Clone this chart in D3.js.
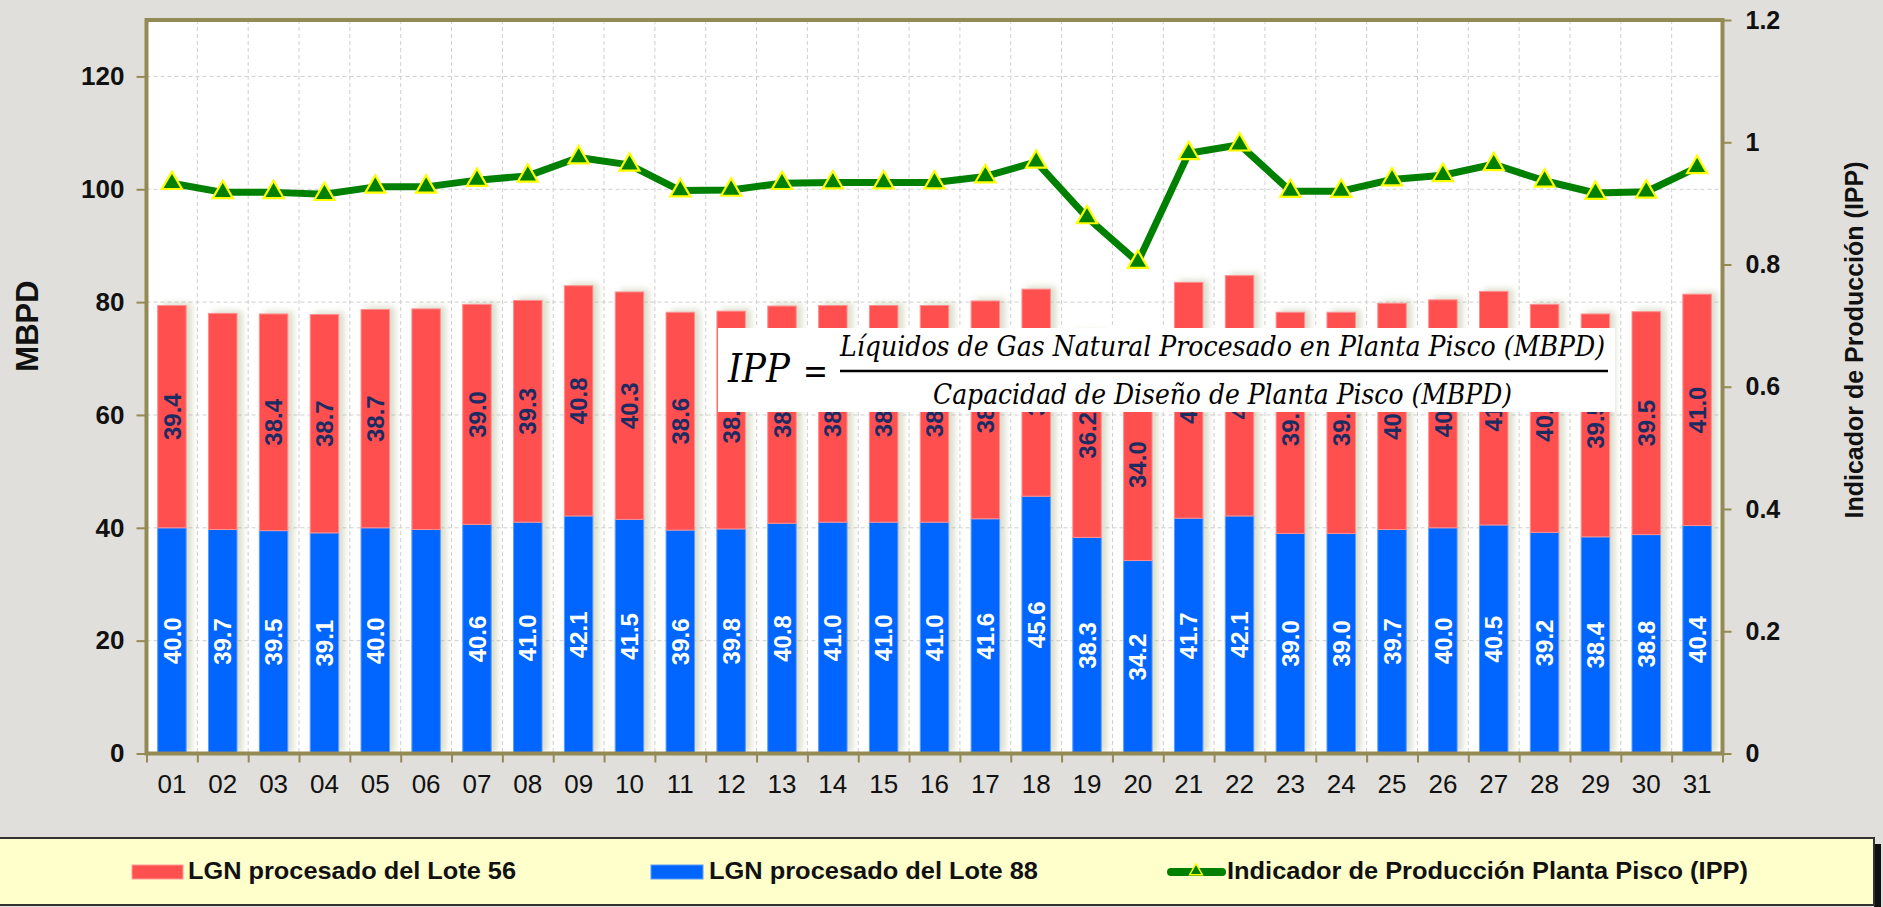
<!DOCTYPE html>
<html>
<head>
<meta charset="utf-8">
<script src="https://cdn.jsdelivr.net/npm/d3@7"></script>
<style>
  html, body { margin:0; padding:0; background:#e0dfdb; }
  svg { display:block; }
</style>
</head>
<body>
<div id="chart"></div>
<script>
// dias del mes
var dias = ["01","02","03","04","05","06","07","08","09","10","11","12","13","14","15","16",
            "17","18","19","20","21","22","23","24","25","26","27","28","29","30","31"]
// LGN procesado del Lote 88 (MBPD)
var lote88 = [40.0,39.7,39.5,39.1,40.0,39.7,40.6,41.0,42.1,41.5,39.6,39.8,40.8,41.0,41.0,41.0,
              41.6,45.6,38.3,34.2,41.7,42.1,39.0,39.0,39.7,40.0,40.5,39.2,38.4,38.8,40.4]
// LGN procesado del Lote 56 (MBPD)
var lote56 = [39.4,38.3,38.4,38.7,38.7,39.1,39.0,39.3,40.8,40.3,38.6,38.6,38.5,38.4,38.4,38.4,
              38.6,36.7,36.2,34.0,41.8,42.6,39.2,39.2,40.1,40.4,41.4,40.4,39.5,39.5,41.0]
// Indicador de Produccion Planta Pisco
var ipp = [0.933,0.918,0.918,0.915,0.927,0.927,0.938,0.945,0.975,0.963,0.921,0.922,0.933,0.934,0.934,0.934,
           0.944,0.968,0.877,0.804,0.982,0.996,0.920,0.920,0.939,0.946,0.964,0.937,0.917,0.919,0.959]

var ticksIzq = [0,20,40,60,80,100,120]
var ticksDer = [0,0.2,0.4,0.6,0.8,1,1.2]
var etiquetasDer = ["0","0.2","0.4","0.6","0.8","1","1.2"]
var sinEtiqueta56 = ["02","06"]
var sinEtiqueta88 = ["06"]

var serie56 = "LGN procesado del Lote 56"
var serie88 = "LGN procesado del Lote 88"
var serieIpp = "Indicador de Producción Planta Pisco (IPP)"
var numerador = "Líquidos de Gas Natural Procesado en Planta Pisco (MBPD)"
var denominador = "Capacidad de Diseño de Planta Pisco (MBPD)"

var svgw = 1883
var svgh = 907
var margen = {left: 146.5, right: 1722.5, top: 20, bottom: 753.5}
var olivo = '#948a54'
var rojo = '#ff5050'
var azul = '#0066ff'
var verde = '#008000'
var sans = '"Liberation Sans", Arial, sans-serif'
var serif = '"DejaVu Serif", "Liberation Serif", serif'

var filas = dias.map(function(d, i){
  return {dia: d, l88: lote88[i], l56: lote56[i], ipp: ipp[i]}
})

var svg = d3.select('#chart').append('svg')
    .attr('width', svgw)
    .attr('height', svgh)

var defs = svg.append('defs')
var f = defs.append('filter').attr('id','sombra')
    .attr('x','-10%').attr('y','-10%').attr('width','130%').attr('height','120%')
f.append('feGaussianBlur').attr('in','SourceAlpha').attr('stdDeviation',3)
f.append('feOffset').attr('dx',5).attr('dy',-2).attr('result','b')
f.append('feFlood').attr('flood-color','#a3a97c').attr('flood-opacity',0.4)
f.append('feComposite').attr('in2','b').attr('operator','in')
var fm = f.append('feMerge')
fm.append('feMergeNode')
fm.append('feMergeNode').attr('in','SourceGraphic')

svg.append('rect').attr('width',svgw).attr('height',svgh).attr('fill','#e0dfdb')

var x = d3.scaleBand().domain(dias).range([margen.left, margen.right]).paddingInner(0.44).paddingOuter(0.22)
var xi = d3.scaleLinear().domain([0, dias.length]).range([margen.left, margen.right])
var y = d3.scaleLinear().domain([0, 130]).range([margen.bottom, margen.top])
var y2 = d3.scaleLinear().domain([0, 1.2]).range([margen.bottom, margen.top])

// area del grafico
svg.append('rect')
  .attr('x', margen.left).attr('y', margen.top)
  .attr('width', margen.right - margen.left).attr('height', margen.bottom - margen.top)
  .attr('fill', '#ffffff')

// rejilla
var rejilla = svg.append('g').attr('stroke','#cfcfcf').attr('stroke-dasharray','4,3').attr('stroke-width',1)
rejilla.selectAll('.gh').data(ticksIzq.slice(1)).enter().append('line')
  .attr('x1', margen.left).attr('x2', margen.right)
  .attr('y1', function(d){ return y(d) }).attr('y2', function(d){ return y(d) })
rejilla.selectAll('.gv').data(d3.range(1, dias.length)).enter().append('line')
  .attr('y1', margen.top).attr('y2', margen.bottom)
  .attr('x1', function(d){ return xi(d) }).attr('x2', function(d){ return xi(d) })

// barras apiladas
var barras = svg.append('g').attr('filter','url(#sombra)')
barras.selectAll('.b88').data(filas).enter().append('rect')
  .attr('x', function(d){ return x(d.dia) })
  .attr('width', x.bandwidth())
  .attr('y', function(d){ return y(d.l88) })
  .attr('height', function(d){ return y(0) - y(d.l88) })
  .attr('fill', azul).attr('stroke','#5b9cff').attr('stroke-width',1)
barras.selectAll('.b56').data(filas).enter().append('rect')
  .attr('x', function(d){ return x(d.dia) })
  .attr('width', x.bandwidth())
  .attr('y', function(d){ return y(d.l88 + d.l56) })
  .attr('height', function(d){ return y(d.l88) - y(d.l88 + d.l56) })
  .attr('fill', rojo).attr('stroke','#ff9090').attr('stroke-width',1)

// etiquetas de barras
function etiqueta(datos, valor, base, color){
  svg.append('g').selectAll('text').data(datos).enter().append('text')
    .attr('transform', function(d){
      return 'translate(' + (x(d.dia) + x.bandwidth()/2) + ',' + y(base(d) + valor(d)/2) + ') rotate(-90)'
    })
    .attr('text-anchor','middle')
    .attr('dy','0.36em')
    .attr('font-family', sans)
    .attr('font-weight','bold')
    .attr('font-size', 24)
    .attr('fill', color)
    .text(function(d){ return valor(d).toFixed(1) })
}
etiqueta(filas.filter(function(d){ return sinEtiqueta88.indexOf(d.dia) < 0 }),
  function(d){ return d.l88 }, function(d){ return 0 }, '#ffffff')
etiqueta(filas.filter(function(d){ return sinEtiqueta56.indexOf(d.dia) < 0 }),
  function(d){ return d.l56 }, function(d){ return d.l88 }, '#1c2c62')

// recuadro con la formula
var formula = svg.append('g')
formula.append('rect').attr('x',718).attr('y',328).attr('width',897).attr('height',84).attr('fill','#ffffff')
formula.append('text').attr('x',728).attr('y',382)
  .attr('font-family', serif).attr('font-style','italic').attr('font-size',40)
  .attr('textLength',62).attr('lengthAdjust','spacingAndGlyphs')
  .text('IPP')
formula.append('text').attr('x',803).attr('y',383)
  .attr('font-family', serif).attr('font-size',36)
  .attr('textLength',25).attr('lengthAdjust','spacingAndGlyphs')
  .text('=')
formula.append('text').attr('x',840).attr('y',356)
  .attr('font-family', serif).attr('font-style','italic').attr('font-size',28)
  .attr('textLength',765).attr('lengthAdjust','spacingAndGlyphs')
  .text(numerador)
formula.append('line').attr('x1',840).attr('x2',1608).attr('y1',371).attr('y2',371)
  .attr('stroke','#000').attr('stroke-width',2.5)
formula.append('text').attr('x',933).attr('y',404)
  .attr('font-family', serif).attr('font-style','italic').attr('font-size',28)
  .attr('textLength',579).attr('lengthAdjust','spacingAndGlyphs')
  .text(denominador)

// linea IPP
var linea = d3.line()
  .x(function(d){ return x(d.dia) + x.bandwidth()/2 })
  .y(function(d){ return y2(d.ipp) })
svg.append('path').datum(filas)
  .attr('d', linea)
  .attr('fill','none').attr('stroke', verde).attr('stroke-width',7)
  .attr('stroke-linejoin','round')
svg.append('g').selectAll('path').data(filas).enter().append('path')
  .attr('d', d3.symbol(d3.symbolTriangle).size(175))
  .attr('transform', function(d){
    return 'translate(' + (x(d.dia) + x.bandwidth()/2) + ',' + y2(d.ipp) + ')'
  })
  .attr('fill', verde).attr('stroke','#ffff00').attr('stroke-width',2.2)

// ejes
function estilo(g, size, weight){
  g.select('.domain').remove()
  g.selectAll('.tick line').attr('stroke', olivo).attr('stroke-width',2)
  g.selectAll('.tick text')
    .attr('font-family', sans).attr('font-size', size).attr('font-weight', weight).attr('fill','#111')
}
svg.append('g')
  .attr('transform','translate(' + margen.left + ',0)')
  .call(d3.axisLeft(y).tickValues(ticksIzq).tickSize(10).tickPadding(12))
  .call(estilo, 26, 'bold')
svg.append('g')
  .attr('transform','translate(' + margen.right + ',0)')
  .call(d3.axisRight(y2).tickValues(ticksDer).tickSize(9).tickPadding(14)
    .tickFormat(function(d, i){ return etiquetasDer[i] }))
  .call(estilo, 25, 'bold')
svg.append('g')
  .attr('transform','translate(0,' + margen.bottom + ')')
  .call(d3.axisBottom(xi).tickValues(d3.range(0, dias.length + 1)).tickSize(9).tickFormat(''))
  .call(estilo, 26, 'normal')
svg.append('g')
  .attr('transform','translate(0,' + margen.bottom + ')')
  .call(d3.axisBottom(x).tickSize(0).tickPadding(21))
  .call(estilo, 26, 'normal')

svg.append('rect')
  .attr('x', margen.left).attr('y', margen.top)
  .attr('width', margen.right - margen.left).attr('height', margen.bottom - margen.top)
  .attr('fill','none').attr('stroke', olivo).attr('stroke-width',4)

// titulos de ejes
svg.append('text')
  .attr('transform','translate(27,326) rotate(-90)')
  .attr('text-anchor','middle').attr('dy','0.36em')
  .attr('font-family', sans).attr('font-weight','bold').attr('font-size',31).attr('fill','#111')
  .text('MBPD')
svg.append('text')
  .attr('transform','translate(1854,340) rotate(-90)')
  .attr('text-anchor','middle').attr('dy','0.36em')
  .attr('font-family', sans).attr('font-weight','bold').attr('font-size',25).attr('fill','#111')
  .text('Indicador de Producción (IPP)')

// leyenda
var ley = svg.append('g')
ley.append('rect').attr('x',1874).attr('y',844).attr('width',7).attr('height',70).attr('fill','#111')
ley.append('rect').attr('x',-3).attr('y',838).attr('width',1877).attr('height',67)
  .attr('fill','#ffffcc').attr('stroke','#333').attr('stroke-width',2)
ley.append('rect').attr('x',132).attr('y',865).attr('width',51).attr('height',14)
  .attr('fill', rojo).attr('stroke','#ff9a9a')
ley.append('rect').attr('x',651).attr('y',865).attr('width',52).attr('height',14)
  .attr('fill', azul).attr('stroke','#5b9cff')
ley.append('line').attr('x1',1171).attr('x2',1222).attr('y1',872).attr('y2',872)
  .attr('stroke', verde).attr('stroke-width',8).attr('stroke-linecap','round')
ley.append('path').attr('d', d3.symbol(d3.symbolTriangle).size(70))
  .attr('transform','translate(1196,871)')
  .attr('fill', verde).attr('stroke','#ffff00').attr('stroke-width',1.5)
var textos = [[188, 328, serie56], [709, 329, serie88], [1227, 521, serieIpp]]
ley.selectAll('.lt').data(textos).enter().append('text')
  .attr('x', function(d){ return d[0] }).attr('y', 879)
  .attr('textLength', function(d){ return d[1] }).attr('lengthAdjust','spacingAndGlyphs')
  .attr('font-family', sans).attr('font-weight','bold').attr('font-size',24).attr('fill','#111')
  .text(function(d){ return d[2] })
</script>
</body>
</html>
